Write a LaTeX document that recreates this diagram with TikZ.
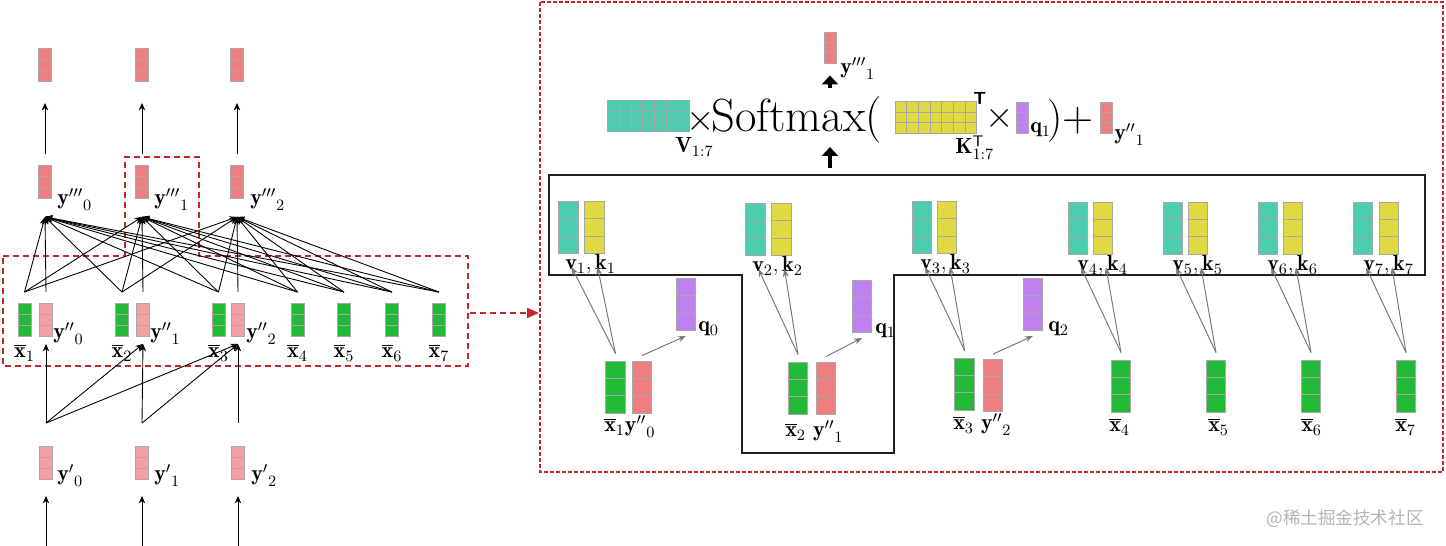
\documentclass[tikz,border=0pt]{standalone}
\usepackage{fontspec}
\newfontfamily\cjkfont{Noto Sans CJK SC}
\usetikzlibrary{arrows.meta,calc}
\definecolor{cellgray}{HTML}{A8A8A8}
\definecolor{xgreen}{HTML}{22BB38}
\definecolor{vteal}{HTML}{4CCDB0}
\definecolor{kyellow}{HTML}{E2DA44}
\definecolor{qpurple}{HTML}{C080F0}
\definecolor{ypink}{HTML}{EE7E80}
\definecolor{ylight}{HTML}{F2A0A6}
\definecolor{dashred}{HTML}{C0282D}
\definecolor{arrowgray}{HTML}{787878}
\definecolor{markgray}{HTML}{B4B4B4}
\definecolor{framegray}{HTML}{202020}
\tikzset{
  cellbox/.style 2 args={draw=cellgray, line width=0.5pt, inner sep=0pt,
    path picture={
      \coordinate (cellsw) at (path picture bounding box.south west);
      \coordinate (cellne) at (path picture bounding box.north east);
      \foreach \c in {1,...,#1}
        \draw[cellgray, line width=0.5pt] ($(cellsw)!{\c/#1}!(cellsw -| cellne)$) -- ($(cellsw |- cellne)!{\c/#1}!(cellne)$);
      \foreach \r in {1,...,#2}
        \draw[cellgray, line width=0.5pt] ($(cellsw)!{\r/#2}!(cellsw |- cellne)$) -- ($(cellsw -| cellne)!{\r/#2}!(cellne)$);
    }},
  vl/.style={cellbox={1}{3}, fill=#1, minimum width=0.26cm, minimum height=0.66cm},
  vr/.style={cellbox={1}{3}, fill=#1, minimum width=0.39cm, minimum height=1.04cm},
  vf/.style={cellbox={1}{3}, fill=#1, minimum width=0.24cm, minimum height=0.62cm},
  mat/.style={cellbox={7}{3}, fill=#1, minimum width=1.63cm, minimum height=0.63cm},
  lbl/.style={inner sep=0pt, font=\fontsize{12.5}{15}\selectfont},
  big/.style={inner sep=0pt, font=\fontsize{26.5}{30}\selectfont},
  op/.style={inner sep=0pt, font=\fontsize{21}{24}\selectfont},
  conn/.style={-{Stealth[length=1.5mm,width=1.3mm]}, line width=0.5pt},
  feed/.style={-{Stealth[length=1.6mm,width=1.2mm]}, draw=arrowgray, line width=0.55pt},
  bigarrow/.style={-{Triangle[length=0.18cm,width=0.32cm]}, line width=0.08cm},
  reddash/.style={draw=dashred, line width=1.1pt, dash pattern=on 0.12cm off 0.08cm}
}
\begin{document}
\begin{tikzpicture}[x=0.02cm, y=-0.02cm]
  \useasboundingbox (0,0) rectangle (1446,546);

  % left: decoder column
  \node[vl=ypink] (o0) at (45,65) {};
  \node[vl=ypink] (o1) at (142,65) {};
  \node[vl=ypink] (o2) at (237,65) {};
  \node[vl=ypink] (y30) at (45,182) {};
  \node[vl=ypink] (y31) at (142,182) {};
  \node[vl=ypink] (y32) at (237,182) {};
  \node[vl=ylight] (y20) at (46,320) {};
  \node[vl=ylight] (y21) at (143,320) {};
  \node[vl=ylight] (y22) at (238,320) {};
  \node[vl=xgreen] (x1) at (24.5,320) {};
  \node[vl=xgreen] (x2) at (122,320) {};
  \node[vl=xgreen] (x3) at (218.5,320) {};
  \node[vl=xgreen] (x4) at (297.5,320) {};
  \node[vl=xgreen] (x5) at (344,320) {};
  \node[vl=xgreen] (x6) at (392,320) {};
  \node[vl=xgreen] (x7) at (439,320) {};
  \node[vl=ylight] (y10) at (46,463) {};
  \node[vl=ylight] (y11) at (142,463) {};
  \node[vl=ylight] (y12) at (238,463) {};
  \coordinate (in0) at (46,548);
  \coordinate (in1) at (142,548);
  \coordinate (in2) at (238,548);

  \node[lbl, anchor=base west] (l30) at (57,205) {${\mathbf{y}'''}_0$};
  \node[lbl, anchor=base west] (l31) at (154,205) {${\mathbf{y}'''}_1$};
  \node[lbl, anchor=base west] (l32) at (250,205) {${\mathbf{y}'''}_2$};
  \node[lbl, anchor=base west] (l20) at (53,339) {${\mathbf{y}''}_0$};
  \node[lbl, anchor=base west] (l21) at (150,339) {${\mathbf{y}''}_1$};
  \node[lbl, anchor=base west] (l22) at (246,339) {${\mathbf{y}''}_2$};
  \node[lbl, anchor=base west] (l10) at (57,481) {${\mathbf{y}'}_0$};
  \node[lbl, anchor=base west] (l11) at (154,481) {${\mathbf{y}'}_1$};
  \node[lbl, anchor=base west] (l12) at (251,481) {${\mathbf{y}'}_2$};
  \foreach \j in {1,...,7}
    \node[lbl, anchor=base] (lx\j) at ([yshift=-0.42cm]x\j.south) {$\overline{\mathbf{x}}_\j$};

  \draw[reddash] (3,256) -- (125,256) -- (125,157) -- (199,157) -- (199,256) -- (468,256) -- (468,366) -- (3,366) -- cycle;

  \foreach \i in {0,1,2} {
    \draw[conn] (in\i) -- ([yshift=-0.32cm]y1\i.south);
    \draw[conn] ([yshift=0.22cm]y2\i.north) -- ([yshift=-0.36cm]y3\i.south);
    \draw[conn] ([yshift=0.22cm]y3\i.north) -- ([yshift=-0.42cm]o\i.south);
  }
  \foreach \i/\j in {0/0,0/1,0/2,1/1,1/2,2/2}
    \draw[conn] ([yshift=0.46cm]y1\i.north) -- ([yshift=-0.14cm]y2\j.south);
  \foreach \j in {1,...,7}
    \foreach \i in {0,1,2}
      \draw[conn] ([yshift=0.22cm]x\j.north) -- ([yshift=-0.36cm]y3\i.south);

  \coordinate (jumpa) at (470,313);
  \coordinate (jumpb) at (539,313);
  \draw[reddash, -{Triangle[length=0.24cm,width=0.2cm]}] (jumpa) -- (jumpb);

  % right: attention for one step
  \draw[draw=dashred, line width=1.1pt, dash pattern=on 0.08cm off 0.04cm] (540,2) rectangle (1443,472);
  \draw[draw=framegray, line width=0.6pt] (549,175) -- (1425,175) -- (1425,275) -- (894,275) -- (894,453) -- (742,453) -- (742,275) -- (549,275) -- cycle;

  \node[vr=vteal] (v1) at (568.5,227.5) {};
  \node[vr=kyellow] (k1) at (594.5,227.5) {};
  \node[vr=vteal] (v2) at (755.5,229.5) {};
  \node[vr=kyellow] (k2) at (781.5,229.5) {};
  \node[vr=vteal] (v3) at (922,227.5) {};
  \node[vr=kyellow] (k3) at (947,227.5) {};
  \node[vr=vteal] (v4) at (1078,228) {};
  \node[vr=kyellow] (k4) at (1103,228) {};
  \node[vr=vteal] (v5) at (1173,228) {};
  \node[vr=kyellow] (k5) at (1198,228) {};
  \node[vr=vteal] (v6) at (1268,228) {};
  \node[vr=kyellow] (k6) at (1293,228) {};
  \node[vr=vteal] (v7) at (1363,228) {};
  \node[vr=kyellow] (k7) at (1389,228) {};

  \node[vr=xgreen] (xr1) at (615.5,387) {};
  \node[vr=ypink] (yr0) at (642,387) {};
  \node[vr=xgreen] (xr2) at (798,388) {};
  \node[vr=ypink] (yr1) at (826,388) {};
  \node[vr=xgreen] (xr3) at (964.5,384) {};
  \node[vr=ypink] (yr2) at (993,385.5) {};
  \node[vr=xgreen] (xr4) at (1121,386) {};
  \node[vr=xgreen] (xr5) at (1216,386) {};
  \node[vr=xgreen] (xr6) at (1311,386) {};
  \node[vr=xgreen] (xr7) at (1406,386) {};

  \node[vr=qpurple] (q0) at (686,304.5) {};
  \node[vr=qpurple] (q1) at (862,306.5) {};
  \node[vr=qpurple] (q2) at (1033,304.5) {};

  \node[lbl, anchor=base west] (lvk1) at (565,270) {$\mathbf{v}_1, \mathbf{k}_1$};
  \node[lbl, anchor=base west] (lvk2) at (752,272) {$\mathbf{v}_2, \mathbf{k}_2$};
  \node[lbl, anchor=base west] (lvk3) at (920,270) {$\mathbf{v}_3, \mathbf{k}_3$};
  \node[lbl, anchor=base west] (lvk4) at (1077,271) {$\mathbf{v}_4, \mathbf{k}_4$};
  \node[lbl, anchor=base west] (lvk5) at (1172,271) {$\mathbf{v}_5, \mathbf{k}_5$};
  \node[lbl, anchor=base west] (lvk6) at (1267,271) {$\mathbf{v}_6, \mathbf{k}_6$};
  \node[lbl, anchor=base west] (lvk7) at (1363,271) {$\mathbf{v}_7, \mathbf{k}_7$};
  \node[lbl, anchor=base west] (lq0) at (698,332) {$\mathbf{q}_0$};
  \node[lbl, anchor=base west] (lq1) at (875,334) {$\mathbf{q}_1$};
  \node[lbl, anchor=base west] (lq2) at (1048,332) {$\mathbf{q}_2$};
  \node[lbl, anchor=base west] (lxy1) at (604,432) {$\overline{\mathbf{x}}_1{\mathbf{y}''}_0$};
  \node[lbl, anchor=base west] (lxy2) at (785,437) {$\overline{\mathbf{x}}_2\ {\mathbf{y}''}_1$};
  \node[lbl, anchor=base west] (lxy3) at (953,430) {$\overline{\mathbf{x}}_3\ {\mathbf{y}''}_2$};
  \node[lbl, anchor=base west] (lx4r) at (1109,432) {$\overline{\mathbf{x}}_4$};
  \node[lbl, anchor=base west] (lx5r) at (1208,432) {$\overline{\mathbf{x}}_5$};
  \node[lbl, anchor=base west] (lx6r) at (1301,432) {$\overline{\mathbf{x}}_6$};
  \node[lbl, anchor=base west] (lx7r) at (1395,432) {$\overline{\mathbf{x}}_7$};

  \foreach \i in {1,...,7} {
    \draw[feed] ([yshift=0.14cm]xr\i.north) -- ([xshift=0.06cm,yshift=-0.26cm]v\i.south);
    \draw[feed] ([yshift=0.14cm]xr\i.north) -- ([xshift=0.06cm,yshift=-0.26cm]k\i.south);
  }
  \foreach \i in {0,1,2}
    \draw[feed] ([yshift=0.1cm]yr\i.north) -- ([yshift=-0.1cm]q\i.south);

  % formula
  \node[vf=ypink] (ytop) at (830,47.5) {};
  \node[lbl, anchor=base west] (lytop) at (840,74) {${\mathbf{y}'''}_1$};
  \node[mat=vteal] (matv) at (648.5,116) {};
  \node[lbl, anchor=base west] (lmatv) at (675,153) {$\mathbf{V}_{1:7}$};
  \node[op] (times1) at (701,121) {$\times$};
  \node[big, anchor=base west] (soft) at (711,132) {Softmax(};
  \node[mat=kyellow] (matk) at (936,117.5) {};
  \node[anchor=base west, inner sep=0pt, font=\fontsize{10}{12}\selectfont\sffamily\bfseries] (tsup) at (973,105) {T};
  \node[lbl, anchor=base west] (lmatk) at (955,154) {$\mathbf{K}^{\mathsf{T}}_{1:7}$};
  \node[op] (times2) at (999.5,118) {$\times$};
  \node[vf=qpurple] (qf) at (1022.5,117.5) {};
  \node[lbl, anchor=base west] (lqf) at (1030,133) {$\mathbf{q}_1$};
  \node[big, anchor=base west, font=\fontsize{24.5}{28}\selectfont] (plus) at (1047,132) {)+};
  \node[vf=ypink] (yf) at (1106,117.5) {};
  \node[lbl, anchor=base west] (lyf) at (1114,140) {${\mathbf{y}''}_1$};
  \coordinate (formup) at (830,88);
  \coordinate (winup) at (830,168);
  \coordinate (formlow) at (830,147);
  \draw[bigarrow] (formup) -- ([yshift=-0.24cm]ytop.south);
  \draw[bigarrow] (winup) -- (formlow);

  \node[font=\cjkfont\fontsize{10}{12}\selectfont, text=markgray, inner sep=0pt] (mark) at (1345,519) {@稀土掘金技术社区};
\end{tikzpicture}
\end{document}
